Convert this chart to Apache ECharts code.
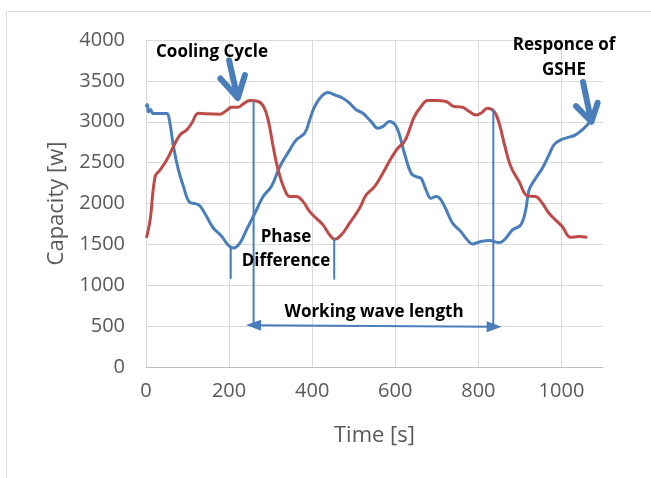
<!DOCTYPE html>
<html>
<head>
<meta charset="utf-8">
<script src="https://cdn.jsdelivr.net/npm/echarts@6/dist/echarts.min.js"></script>
<style>
html,body{margin:0;padding:0;background:#fff;}
#chart{width:651px;height:478px;}
</style>
</head>
<body>
<div id="chart"></div>
<script>
// Time ticks / value ticks
var xTicks = [0, 200, 400, 600, 800, 1000];
var yTicks = [0, 500, 1000, 1500, 2000, 2500, 3000, 3500, 4000];

// Blue curve: response of GSHE
var blueTime = [0,3,6,11,17,34,50,56,66,78,90,106,118,130,146,162,182,198,210,226,242,262,282,302,322,346,362,382,394,406,422,438,454,474,490,506,522,542,558,570,586,600,610,622,638,650,662,674,686,698,706,714,722,738,758,770,786,806,826,850,866,882,902,914,922,938,954,970,982,998,1018,1034,1050,1062,1070];
var blueValue = [3180,3210,3120,3150,3100,3100,3100,3030,2700,2410,2210,2010,2000,1970,1840,1700,1600,1490,1455,1515,1680,1880,2085,2210,2450,2656,2780,2860,3023,3186,3308,3357,3329,3288,3227,3146,3104,3002,2921,2941,3002,2962,2840,2615,2370,2329,2309,2166,2064,2085,2070,2010,1930,1759,1656,1575,1506,1534,1546,1522,1575,1677,1738,1922,2166,2309,2431,2595,2717,2778,2811,2840,2901,2962,3000];

// Red curve: cooling cycle
var redTime = [1,10,22,34,50,66,82,98,110,126,146,178,194,206,222,234,250,270,283,294,306,318,334,346,362,378,394,414,426,442,454,470,490,514,530,550,570,590,606,622,634,646,662,678,698,722,742,762,778,794,806,822,838,850,862,878,898,918,938,954,970,990,1002,1022,1042,1062];
var redValue = [1580,1800,2330,2411,2534,2697,2840,2901,2982,3104,3097,3093,3138,3178,3178,3219,3260,3248,3186,3023,2697,2411,2166,2085,2085,2023,1901,1800,1738,1616,1562,1616,1759,1942,2105,2207,2370,2554,2676,2758,2901,3064,3186,3260,3260,3248,3186,3178,3125,3084,3104,3166,3125,2982,2737,2452,2268,2093,2085,2003,1881,1779,1718,1587,1595,1587];

// Annotation marks (data coordinates: [time, capacity])
var waveLeftLine = [[259, 3245], [259, 510]];
var waveRightLine = [[836, 3150], [836, 492]];
var waveArrow = [[259, 512], [838, 492]];
var phaseLeftLine = [[204, 1460], [204, 1090]];
var phaseRightLine = [[453, 1560], [453, 1080]];
var coolShaft = [[200, 3750], [220, 3300]];
var coolHead = [[179, 3530], [221, 3290], [238, 3570]];
var gsheShaft = [[1052, 3486], [1071, 3020]];
var gsheHead = [[1035, 3190], [1072, 3000], [1087, 3230]];

// Texts
var xAxisTitle = 'Time [s]';
var yAxisTitle = 'Capacity [w]';
var labelCooling = 'Cooling Cycle';
var labelPhase = 'Phase\nDifference';
var labelWave = 'Working wave length';
var labelGshe = 'Responce of\nGSHE';

function pairs(ts, vs) { return ts.map(function (t, i) { return [t, vs[i]]; }); }

var BLUE = '#4a7ebb';
var RED = '#be4b48';
var GRID = '#d9d9d9';
var TXT = '#595959';
var FONT = '"Open Sans", "Liberation Sans", sans-serif';

function annot(data, width, name) {
  return {
    name: name, type: 'line', data: data, symbol: 'none', silent: true,
    smooth: false, z: 5,
    lineStyle: { color: BLUE, width: width, cap: 'round', join: 'round' }
  };
}

var chart = echarts.init(document.getElementById('chart'), null, { renderer: 'canvas' });
var xSplitColors = xTicks.map(function () { return GRID; }).concat(['rgba(0,0,0,0)']);

chart.setOption({
  animation: false,
  backgroundColor: '#ffffff',
  grid: { left: 146, top: 40, right: 48, bottom: 111, containLabel: false },
  xAxis: {
    type: 'value', min: 0, max: 1100, interval: 200,
    name: xAxisTitle, nameLocation: 'middle', nameGap: 58,
    nameTextStyle: { color: TXT, fontSize: 22, fontFamily: FONT },
    axisLine: { show: true, lineStyle: { color: '#bfbfbf', width: 1 } },
    axisTick: { show: false },
    axisLabel: { color: TXT, fontSize: 20, fontFamily: FONT, margin: 14, showMaxLabel: false,
      formatter: function (v) { return xTicks.indexOf(v) >= 0 ? String(v) : ''; } },
    splitLine: { show: true, lineStyle: { color: xSplitColors, width: 1 } }
  },
  yAxis: {
    type: 'value', min: 0, max: 4000, interval: 500,
    name: yAxisTitle, nameLocation: 'middle', nameGap: 78,
    nameTextStyle: { color: TXT, fontSize: 22, fontFamily: FONT },
    axisLine: { show: false },
    axisTick: { show: false },
    axisLabel: { color: TXT, fontSize: 20, fontFamily: FONT, margin: 21,
      formatter: function (v) { return yTicks.indexOf(v) >= 0 ? String(v) : ''; } },
    splitLine: { show: true, lineStyle: { color: GRID, width: 1 } }
  },
  series: [
    { name: 'GSHE', type: 'line', data: pairs(blueTime, blueValue), symbol: 'none', smooth: 0.4,
      lineStyle: { color: BLUE, width: 3 }, z: 3 },
    { name: 'Cooling', type: 'line', data: pairs(redTime, redValue), symbol: 'none', smooth: 0.4,
      lineStyle: { color: RED, width: 3 }, z: 3 },
    annot(waveLeftLine, 2, 'wl'),
    annot(waveRightLine, 2, 'wr'),
    annot(phaseLeftLine, 2, 'pl'),
    annot(phaseRightLine, 2, 'pr'),
    annot(coolShaft, 6, 'cs'),
    annot(coolHead, 6, 'ch'),
    annot(gsheShaft, 6, 'gs'),
    annot(gsheHead, 6, 'gh'),
    {
      name: 'wave', type: 'line', data: [], silent: true,
      markLine: {
        silent: true, symbol: ['triangle', 'triangle'], symbolSize: [11, 15],
        label: { show: false },
        lineStyle: { color: BLUE, width: 2, type: 'solid' },
        data: [[{ coord: waveArrow[0] }, { coord: waveArrow[1] }]]
      }
    }
  ],
  graphic: [
    { type: 'rect', shape: { x: 6.5, y: 11.5, width: 700, height: 500 }, style: { fill: 'none', stroke: '#d9d9d9', lineWidth: 1 }, z: -10, silent: true },
    { type: 'text', x: 212, y: 52, style: { text: labelCooling, font: 'bold 17px ' + FONT, fill: '#000', align: 'center', verticalAlign: 'middle' }, z: 10 },
    { type: 'text', x: 286, y: 249, style: { text: labelPhase, font: 'bold 17px ' + FONT, fill: '#000', align: 'center', verticalAlign: 'middle', lineHeight: 24 }, z: 10 },
    { type: 'text', x: 374, y: 312, style: { text: labelWave, font: 'bold 17px ' + FONT, fill: '#000', align: 'center', verticalAlign: 'middle' }, z: 10 },
    { type: 'text', x: 564, y: 58, style: { text: labelGshe, font: 'bold 17px ' + FONT, fill: '#000', align: 'center', verticalAlign: 'middle', lineHeight: 25 }, z: 10 }
  ]
});
</script>
</body>
</html>
